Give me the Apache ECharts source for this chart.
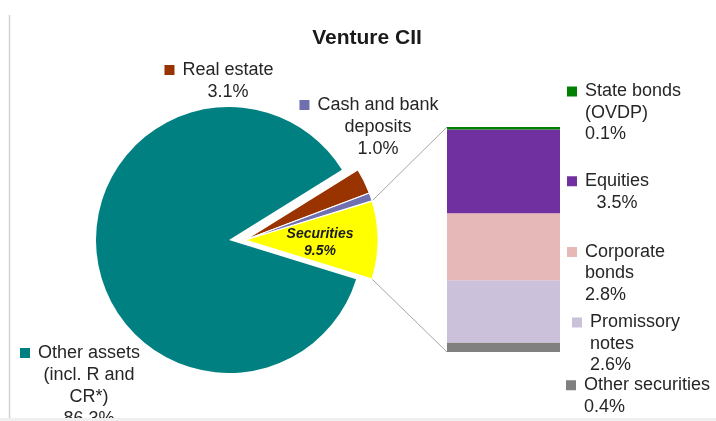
<!DOCTYPE html>
<html>
<head>
<meta charset="utf-8">
<script src="https://cdn.jsdelivr.net/npm/echarts@6/dist/echarts.min.js"></script>
<style>
  html, body { margin: 0; padding: 0; background: #fff; }
  #chart { width: 716px; height: 421px; }
</style>
</head>
<body>
<div id="chart"></div>
<script>
// pie slices, clockwise starting at the top edge of Securities
const pieNames = ['Securities', 'Other assets\n(incl. R and\nCR*)', 'Real estate', 'Cash and bank\ndeposits'];
const pieValues = [9.5, 86.3, 3.1, 1.0];
const pieColors = ['#ffff00', '#008080', '#993300', '#7070b0'];

// breakdown of securities, stacked bottom to top
const secNames = ['Other securities', 'Promissory\nnotes', 'Corporate\nbonds', 'Equities', 'State bonds\n(OVDP)'];
const secValues = [0.4, 2.6, 2.8, 3.5, 0.1];
const secColors = ['#808080', '#ccc1da', '#e6b9b8', '#7030a0', '#008000'];

const FONT = '"Liberation Sans", Arial, sans-serif';
const TXT = '#262626';

// layout
const pieR = 133;
const bigCenter = [229, 240];   // teal slice
const smallCenter = [245, 240]; // pulled-out slices
const gridLeft = 447, gridWidth = 113, gridTop = 127, gridBottom = 69;

const pieLabelPos = [
  { x: 320, y: 243, align: 'center' },
  { x: 89, y: 386, align: 'center' },
  { x: 228, y: 81, align: 'center' },
  { x: 378, y: 127, align: 'center' }
];
const secLabelPos = [
  { x: 566, y: 396, align: 'left' },
  { x: 572, y: 344, align: 'left' },
  { x: 567, y: 273.5, align: 'left' },
  { x: 617, y: 192, align: 'center' },
  { x: 567, y: 113, align: 'left' }
];

const pieSum = pieValues.reduce((a, b) => a + b, 0);
const secTotal = secValues.reduce((a, b) => a + b, 0);
const startAngle = pieValues[0] / pieSum * 180;

// marker + wrapped name + value, marker kept outside the text column
function richLabel(name, value, mk, centered) {
  const lines = name.split('\n');
  lines.push(value.toFixed(1) + '%');
  return lines.map((l, i) => {
    if (i === 0) return '{' + mk + '|}{g|}' + l + (centered ? '{g|}{e|}' : '');
    return centered ? l : '{e|}{g|}' + l;
  }).join('\n');
}

const pieRich = { g: { width: 8 }, e: { width: 10 } };
pieColors.forEach((c, i) => { pieRich['m' + i] = { width: 10, height: 10, backgroundColor: c }; });

function pieSeries(center, shown) {
  return {
    type: 'pie',
    center: center,
    radius: pieR,
    startAngle: startAngle,
    clockwise: true,
    avoidLabelOverlap: false,
    silent: true,
    label: {
      show: true,
      position: 'inside',
      color: TXT,
      fontFamily: FONT,
      fontSize: 18,
      lineHeight: 22,
      rich: pieRich,
      formatter: p => p.dataIndex === 0
        ? pieNames[0] + '\n' + pieValues[0].toFixed(1) + '%'
        : richLabel(pieNames[p.dataIndex], pieValues[p.dataIndex], 'm' + p.dataIndex, true)
    },
    labelLine: { show: false },
    labelLayout: p => ({
      x: pieLabelPos[p.dataIndex].x,
      y: pieLabelPos[p.dataIndex].y,
      align: pieLabelPos[p.dataIndex].align,
      verticalAlign: 'middle'
    }),
    data: pieValues.map((v, i) => ({
      value: v,
      name: pieNames[i],
      itemStyle: shown.includes(i)
        ? { color: pieColors[i], borderColor: '#fff', borderWidth: shown.length > 1 ? 1.2 : 0 }
        : { color: 'rgba(0,0,0,0)', borderWidth: 0 },
      label: shown.includes(i)
        ? (i === 0 ? { show: true, fontWeight: 'bold', fontStyle: 'italic', fontSize: 14, lineHeight: 17, color: '#1a1a1a' } : { show: true })
        : { show: false }
    }))
  };
}

const barSeries = secValues.map((v, i) => ({
  type: 'bar',
  name: secNames[i],
  stack: 'sec',
  barWidth: '100%',
  silent: true,
  data: [v],
  itemStyle: { color: secColors[i] },
  label: {
    show: true,
    position: 'inside',
    color: TXT,
    fontFamily: FONT,
    fontSize: 18,
    lineHeight: 21.5,
    rich: { m: { width: 10, height: 10, backgroundColor: secColors[i] }, g: { width: 8 }, e: { width: 10 } },
    formatter: () => richLabel(secNames[i], v, 'm', secLabelPos[i].align === 'center')
  },
  labelLayout: {
    x: secLabelPos[i].x,
    y: secLabelPos[i].y,
    align: secLabelPos[i].align,
    verticalAlign: 'middle'
  }
}));

const myChart = echarts.init(document.getElementById('chart'));
myChart.setOption({
  animation: false,
  backgroundColor: '#fff',
  title: {
    text: 'Venture CII',
    left: 362,
    top: 23,
    textAlign: 'center',
    textStyle: { fontFamily: FONT, fontSize: 21, fontWeight: 'bold', color: '#1a1a1a' }
  },
  grid: { left: gridLeft, width: gridWidth, top: gridTop, bottom: gridBottom },
  xAxis: { type: 'category', data: ['Securities'], show: false },
  yAxis: { type: 'value', min: 0, max: secTotal, show: false },
  series: [pieSeries(bigCenter, [1]), pieSeries(smallCenter, [0, 2, 3])].concat(barSeries)
});

// connector lines from the Securities slice to the bar
const a = startAngle * Math.PI / 180;
const px = smallCenter[0] + pieR * Math.cos(a);
const pyTop = smallCenter[1] - pieR * Math.sin(a);
const pyBot = smallCenter[1] + pieR * Math.sin(a);
const barTop = myChart.convertToPixel({ yAxisIndex: 0 }, secTotal);
const barBot = myChart.convertToPixel({ yAxisIndex: 0 }, 0);
myChart.setOption({
  graphic: [
    { type: 'line', shape: { x1: px, y1: pyTop, x2: gridLeft, y2: barTop }, style: { stroke: '#a6a6a6', lineWidth: 1 } },
    { type: 'line', shape: { x1: px, y1: pyBot, x2: gridLeft, y2: barBot }, style: { stroke: '#a6a6a6', lineWidth: 1 } },
    { type: 'line', shape: { x1: 9.5, y1: 15, x2: 9.5, y2: 418 }, style: { stroke: '#d4d4d4', lineWidth: 1.5 } },
    { type: 'rect', shape: { x: 0, y: 418, width: 716, height: 3 }, style: { fill: '#efefef' }, z: 100 }
  ]
});
</script>
</body>
</html>
